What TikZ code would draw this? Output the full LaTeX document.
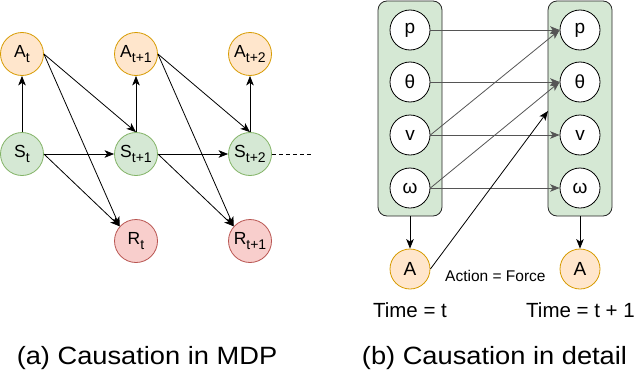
\documentclass[tikz,border=0pt]{standalone}
\usepackage{fontspec}
\setmainfont{Liberation Sans}
\usetikzlibrary{arrows.meta}
\definecolor{orF}{HTML}{FFE6CC}\definecolor{orS}{HTML}{D79B00}
\definecolor{grF}{HTML}{D5E8D4}\definecolor{grS}{HTML}{82B366}
\definecolor{rdF}{HTML}{F8CECC}\definecolor{rdS}{HTML}{B85450}
\definecolor{edgegray}{HTML}{555555}
\newcommand\lab[2]{#1\raisebox{-5pt}{\fontsize{14}{14}\selectfont #2}}
\begin{document}
\begin{tikzpicture}[x=1pt,y=-1pt,
 vnode/.style={circle, minimum size=43pt, inner sep=0pt, line width=0.8pt, font=\fontsize{17.5}{17.5}\selectfont},
 act/.style={vnode, fill=orF, draw=orS},
 st/.style={vnode, fill=grF, draw=grS},
 rw/.style={vnode, fill=rdF, draw=rdS},
 var/.style={vnode, minimum size=40pt, fill=white, draw=black, font=\fontsize{19}{19}\selectfont},
 act2/.style={act, minimum size=40pt, font=\fontsize{19}{19}\selectfont},
 cont/.style={draw=black!85, fill=grF, rounded corners=9pt, line width=0.8pt},
 arr/.style={-{Stealth[length=9.5pt,width=7.5pt,inset=2.5pt]}, line width=0.8pt},
 garr/.style={arr, draw=edgegray},
 txt/.style={inner sep=0pt, anchor=base},
]
\useasboundingbox (0,0) rectangle (636,372);
% ---------- (a) ----------
\node[act] (A0) at (22,54) {\lab{A}{t}};
\node[act] (A1) at (136,54) {\lab{A}{t+1}};
\node[act] (A2) at (250,54) {\lab{A}{t+2}};
\node[st] (S0) at (22,154) {\lab{S}{t}};
\node[st] (S1) at (136,154) {\lab{S}{t+1}};
\node[st] (S2) at (250,154) {\lab{S}{t+2}};
\node[rw] (R0) at (136,241) {\lab{R}{t}};
\node[rw] (R1) at (250,241) {\lab{R}{t+1}};
\coordinate (dend) at (312,154);
\draw[arr] (S0.north) -- (A0.south);
\draw[arr] (S1.north) -- (A1.south);
\draw[arr] (S2.north) -- (A2.south);
\draw[arr] (S0.east) -- (S1.west);
\draw[arr] (S1.east) -- (S2.west);
\draw[arr] (A0.east) -- (S1.north);
\draw[arr] (A1.east) -- (S2.north);
\draw[arr] (A0.east) -- (R0.138);
\draw[arr] (S0.east) -- (R0.138);
\draw[arr] (A1.east) -- (R1.138);
\draw[arr] (S1.east) -- (R1.138);
\draw[line width=0.8pt, dash pattern=on 4pt off 3pt] (S2.east) -- (dend);
\node[txt, font=\fontsize{25}{25}\selectfont] (capa) at (147,364) {\scalebox{1.09}[1]{(a) Causation in MDP}};
% ---------- (b) ----------
\node[cont, minimum width=64pt, minimum height=215pt, inner sep=0pt] (CL) at (410,108.5) {};
\node[cont, minimum width=64pt, minimum height=215pt, inner sep=0pt] (CR) at (580,108.5) {};
\node[var] (pl) at (410,30) {p};
\node[var] (tl) at (410,82) {θ};
\node[var] (vl) at (410,135) {v};
\node[var] (wl) at (410,188) {ω};
\node[var] (pr) at (580,30) {p};
\node[var] (tr) at (580,82) {θ};
\node[var] (vr) at (580,135) {v};
\node[var] (wr) at (580,188) {ω};
\node[act2] (AL) at (410,269) {A};
\node[act2] (AR) at (580,269) {A};
\coordinate (fend) at (548,111);
\draw[garr] (pl.east) -- (pr.west);
\draw[garr] (tl.east) -- (tr.west);
\draw[garr] (vl.east) -- (vr.west);
\draw[garr] (wl.east) -- (wr.west);
\draw[garr] (vl.east) -- (pr.west);
\draw[garr] (wl.east) -- (tr.west);
\draw[arr] (AL.east) -- (fend);
\draw[arr] (CL.south) -- (AL.north);
\draw[arr] (CR.south) -- (AR.north);
\node[txt, anchor=base west, font=\fontsize{15.5}{15.5}\selectfont] (force) at (445,281) {Action = Force};
\node[txt, font=\fontsize{20.5}{20.5}\selectfont] (tt) at (410,317) {Time = t};
\node[txt, font=\fontsize{20.5}{20.5}\selectfont] (tt1) at (580.5,317) {Time = t + 1};
\node[txt, font=\fontsize{25}{25}\selectfont] (capb) at (494.5,364) {\scalebox{1.09}[1]{(b) Causation in detail}};
\end{tikzpicture}
\end{document}
